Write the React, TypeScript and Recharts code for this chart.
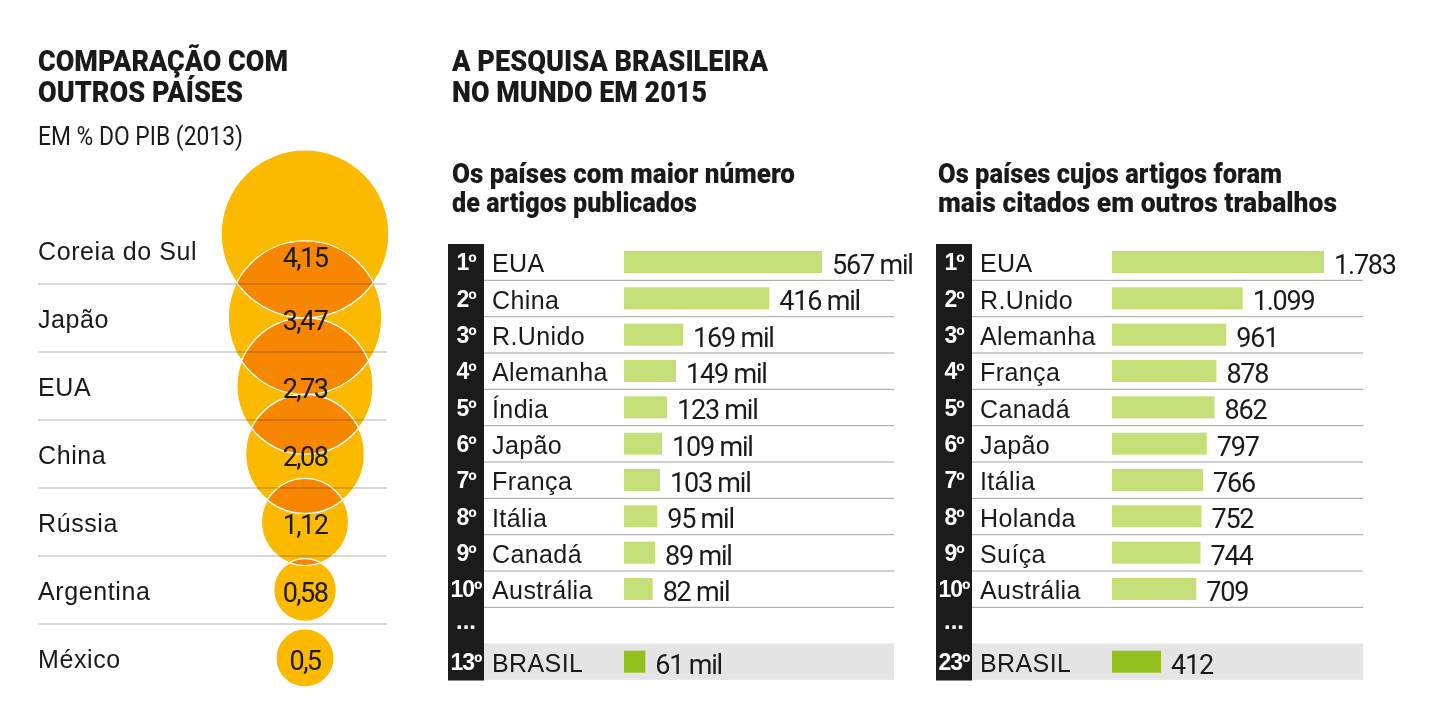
import React from 'react';
import {
  ScatterChart,
  Scatter,
  XAxis,
  YAxis,
  ZAxis,
  LabelList,
  BarChart,
  Bar,
} from 'recharts';

// Investimento em pesquisa, em % do PIB (2013)
const pibCountries = ['Coreia do Sul', 'Japão', 'EUA', 'China', 'Rússia', 'Argentina', 'México'];
const pibValues = [4.15, 3.47, 2.73, 2.08, 1.12, 0.58, 0.5];

// Artigos publicados em 2015 (mil)
const artRanks = ['1º', '2º', '3º', '4º', '5º', '6º', '7º', '8º', '9º', '10º', '...', '13º'];
const artCountries = ['EUA', 'China', 'R.Unido', 'Alemanha', 'Índia', 'Japão', 'França', 'Itália', 'Canadá', 'Austrália', '', 'BRASIL'];
const artValues = [567, 416, 169, 149, 123, 109, 103, 95, 89, 82, null, 61];

// Citações em outros trabalhos
const citRanks = ['1º', '2º', '3º', '4º', '5º', '6º', '7º', '8º', '9º', '10º', '...', '23º'];
const citCountries = ['EUA', 'R.Unido', 'Alemanha', 'França', 'Canadá', 'Japão', 'Itália', 'Holanda', 'Suíça', 'Austrália', '', 'BRASIL'];
const citValues = [1783, 1099, 961, 878, 862, 797, 766, 752, 744, 709, null, 412];

const SANS = '"Liberation Sans", Arial, sans-serif';
const HEAD = 'Roboto, "Liberation Sans", sans-serif';
const INK = '#1a1a1a';

const YELLOW = '#fbb900';
const GREEN = '#c4de78';
const GREEN_BR = '#93c01f';

// bolhas
const PIB_ROW = 68;
const PIB_TOP = 216;
const PIB_W = 420;
const PIB_H = 702;
const MAX_R = 84;

const pibData = pibCountries.map((name, i) => ({ name, value: pibValues[i], col: 'pib' }));

// sobe a bolha se ela encostar na bolha duas linhas abaixo
function bubbleShift(name: string, r: number) {
  const i = pibCountries.indexOf(name);
  const j = i + 2;
  if (i < 0 || j >= pibValues.length) return 0;
  const r2 = r * Math.sqrt(pibValues[j] / pibValues[i]);
  return Math.max(0, r + r2 - 2 * PIB_ROW);
}

const Bubble = (props: any) => {
  const { cx, cy, width, payload } = props;
  const r = width / 2;
  const dy = bubbleShift(payload?.name ?? props.name, r);
  return <circle cx={cx} cy={cy - dy} r={r} fill={YELLOW} style={{ mixBlendMode: 'multiply' }} />;
};

const BubbleEdge = (props: any) => {
  const { cx, cy, width, payload } = props;
  const r = width / 2;
  const dy = bubbleShift(payload?.name ?? props.name, r);
  return <circle cx={cx} cy={cy - dy} r={r} fill="none" stroke="#fff" strokeWidth={1.4} />;
};

const BubbleValue = (props: any) => {
  const { x, y, width, height, value, index } = props;
  // o primeiro valor fica um pouco mais baixo, dentro da interseção
  const extra = index === 0 ? 8 : 3;
  return (
    <text
      x={x + width / 2}
      y={y + height / 2 + extra}
      textAnchor="middle"
      dominantBaseline="central"
      fontFamily={HEAD}
      fontSize={27}
      letterSpacing={-1.6}
      fill={INK}
    >
      {String(value).replace('.', ',')}
    </text>
  );
};

const PibTick = (props: any) => {
  const { y, payload } = props;
  const i = payload.index;
  return (
    <g>
      <text x={38} y={y + 1} dominantBaseline="central" fontFamily={SANS} fontSize={25} letterSpacing={0.6} fill={INK}>
        {payload.value}
      </text>
      {i < pibCountries.length - 1 && (
        <line
          x1={38}
          x2={387}
          y1={y + PIB_ROW / 2}
          y2={y + PIB_ROW / 2}
          stroke="#b0b0b0"
          style={{ mixBlendMode: 'multiply' }}
        />
      )}
    </g>
  );
};

// tabelas
const T_TOP = 244;
const T_ROWS = 12;
const T_PLOT_H = 436;
const T_ROW = T_PLOT_H / T_ROWS;
const T_COL = 36;
const T_AXIS = 176;
const T_W = 480;

type TableProps = {
  ranks: string[];
  countries: string[];
  values: (number | null)[];
  fmt: (v: number) => string;
  left: number;
  plotW: number;
  lineEnd: number;
};

function RankTable({ ranks, countries, values, fmt, left, plotW, lineEnd }: TableProps) {
  const data = countries.map((name, i) => ({ name, value: values[i] }));

  const tick = (p: any) => {
    const i = p.payload.index;
    const y = p.y;
    const top = y - T_ROW / 2;
    const gap = ranks[i] === '...';
    return (
      <g>
        <rect x={0} y={top - 0.5} width={T_COL} height={T_ROW + 1} fill="#1b1b1b" />
        <text
          x={T_COL / 2}
          y={gap ? y - 5 : y}
          textAnchor="middle"
          dominantBaseline="central"
          fontFamily={SANS}
          fontWeight="bold"
          fontSize={gap ? 24 : 23}
          letterSpacing={gap ? 0 : -1}
          fill="#fff"
        >
          {ranks[i]}
        </text>
        <text x={44} y={y + 1} dominantBaseline="central" fontFamily={SANS} fontSize={25} letterSpacing={0.4} fill={INK}>
          {countries[i]}
        </text>
        {i < 10 && (
          <line x1={T_COL} x2={lineEnd} y1={top + T_ROW} y2={top + T_ROW} stroke="#a0a0a0" strokeWidth={1} />
        )}
      </g>
    );
  };

  // a faixa cinza do Brasil fica atrás da barra
  const barShape = (p: any) => {
    const isBr = p.payload?.name === 'BRASIL';
    const mid = p.y + p.height / 2;
    return (
      <g>
        {isBr && <rect x={T_COL} y={mid - T_ROW / 2} width={lineEnd - T_COL} height={T_ROW} fill="#e5e5e5" />}
        <rect x={p.x} y={p.y} width={p.width} height={p.height} fill={isBr ? GREEN_BR : GREEN} />
      </g>
    );
  };

  const label = (p: any) => {
    if (p.value == null) return null;
    return (
      <text
        x={p.x + p.width + 10}
        y={p.y + p.height / 2 + 3}
        dominantBaseline="central"
        fontFamily={HEAD}
        fontSize={27}
        letterSpacing={-1.2}
        fill={INK}
      >
        {fmt(p.value)}
      </text>
    );
  };

  return (
    <div style={{ position: 'absolute', left, top: T_TOP }}>
      <BarChart
        layout="vertical"
        width={T_W}
        height={T_PLOT_H + 4}
        data={data}
        margin={{ top: 0, right: T_W - T_AXIS - plotW, bottom: 4, left: 0 }}
        barCategoryGap={0}
      >
        <XAxis type="number" hide domain={[0, 'dataMax']} />
        <YAxis
          type="category"
          dataKey="name"
          width={T_AXIS}
          axisLine={false}
          tickLine={false}
          interval={0}
          tick={tick}
        />
        <Bar dataKey="value" barSize={22} isAnimationActive={false} shape={barShape}>
          <LabelList dataKey="value" content={label} />
        </Bar>
      </BarChart>
    </div>
  );
}

const milFmt = (v: number) => `${v} mil`;
const dotFmt = (v: number) => String(v).replace(/\B(?=(\d{3})+(?!\d))/g, '.');

const headText = (txt: string, x: number, y: number, size: number, len: number, weight = 900) => (
  <text
    x={x}
    y={y}
    fontFamily={HEAD}
    fontWeight={weight}
    fontSize={size}
    fill={INK}
    textLength={len}
    lengthAdjust="spacingAndGlyphs"
  >
    {txt}
  </text>
);

export default function App() {
  return (
    <div style={{ position: 'absolute', left: 0, top: 0, width: 1430, height: 702, background: '#fff', overflow: 'hidden' }}>
      <div style={{ position: 'absolute', left: 0, top: 0 }}>
        <ScatterChart
          width={PIB_W}
          height={PIB_H}
          margin={{ top: PIB_TOP, right: 33, bottom: PIB_H - PIB_TOP - PIB_ROW * pibData.length, left: 38 }}
        >
          <XAxis dataKey="col" type="category" hide allowDuplicatedCategory={false} />
          <YAxis
            dataKey="name"
            type="category"
            width={185}
            axisLine={false}
            tickLine={false}
            interval={0}
            reversed
            tick={PibTick}
          />
          <ZAxis dataKey="value" type="number" domain={[0, 'dataMax']} range={[0, Math.PI * MAX_R * MAX_R]} />
          <Scatter data={pibData} shape={Bubble} isAnimationActive={false} />
          <Scatter data={pibData} shape={BubbleEdge} isAnimationActive={false}>
            <LabelList dataKey="value" content={BubbleValue} />
          </Scatter>
        </ScatterChart>
      </div>

      <RankTable
        ranks={artRanks}
        countries={artCountries}
        values={artValues}
        fmt={milFmt}
        left={448}
        plotW={198}
        lineEnd={446}
      />
      <RankTable
        ranks={citRanks}
        countries={citCountries}
        values={citValues}
        fmt={dotFmt}
        left={936}
        plotW={212}
        lineEnd={427}
      />

      <svg width={1430} height={702} style={{ position: 'absolute', left: 0, top: 0, pointerEvents: 'none' }}>
        {headText('COMPARAÇÃO COM', 38, 71, 29, 250)}
        {headText('OUTROS PAÍSES', 38, 102, 29, 205)}
        {headText('EM % DO PIB (2013)', 38, 145, 25, 205, 400)}
        {headText('A PESQUISA BRASILEIRA', 452, 71, 29, 316)}
        {headText('NO MUNDO EM 2015', 452, 102, 29, 255)}
        {headText('Os países com maior número', 452, 183, 27, 343)}
        {headText('de artigos publicados', 452, 212, 27, 245)}
        {headText('Os países cujos artigos foram', 938, 183, 27, 344)}
        {headText('mais citados em outros trabalhos', 938, 212, 27, 399)}
      </svg>
    </div>
  );
}
